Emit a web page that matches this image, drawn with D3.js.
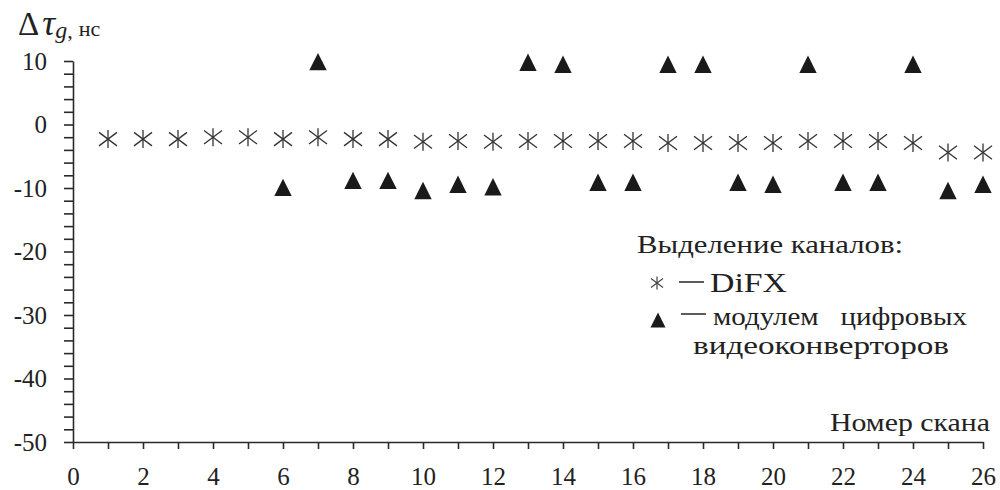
<!DOCTYPE html>
<html>
<head>
<meta charset="utf-8">
<script src="https://cdn.jsdelivr.net/npm/d3@7"></script>
<style>
  html, body { margin: 0; padding: 0; background: #fff; }
  svg { display: block; }
  svg text { font-family: "Liberation Serif", "Times New Roman", serif; fill: #222; }
</style>
</head>
<body>
<svg id="chart" width="1000" height="490"></svg>
<script>
// Scan numbers and delay differences (ns)
const scans = d3.range(1, 27);
const difxValues = [-2.3, -2.3, -2.3, -2.0, -2.0, -2.3, -2.0, -2.3, -2.3, -2.7,
                    -2.6, -2.7, -2.6, -2.6, -2.6, -2.6, -2.9, -2.9, -2.9, -2.9,
                    -2.6, -2.6, -2.6, -2.9, -4.4, -4.4];
const dbbcScans = d3.range(6, 27);
const dbbcValues = [-9.9, 9.9, -8.8, -8.8, -10.4, -9.4, -9.8, 9.8, 9.5, -9.1,
                    -9.1, 9.5, 9.5, -9.1, -9.4, 9.5, -9.1, -9.1, 9.5, -10.4, -9.4];
const xTickLabels = d3.range(0, 27, 2);
const yTickLabels = [10, 0, -10, -20, -30, -40, -50];
const legendTitle = "Выделение каналов:";
const legendDifx = "DiFX";
const legendDbbc1 = "модулем   цифровых";
const legendDbbc2 = "видеоконверторов";
const xTitle = "Номер скана";

const svg = d3.select("#chart");
const x = d3.scaleLinear().domain([0, 26]).range([73, 983]);
const y = d3.scaleLinear().domain([-50, 10]).range([442, 61]);

const axisColor = "#2a2a2a";

// X axis: a tick at every scan, labels on even numbers
const xAxis = d3.axisBottom(x)
  .tickValues(d3.range(0, 27))
  .tickSizeInner(7).tickSizeOuter(0).tickPadding(18)
  .tickFormat(d => xTickLabels.includes(d) ? d : "");
const gx = svg.append("g").attr("transform", `translate(0,${y(-50)})`).call(xAxis);

// Y axis: minor ticks every 2 ns, labels every 10 ns
const yAxis = d3.axisLeft(y)
  .tickValues(d3.range(-50, 11, 2))
  .tickSizeInner(9).tickSizeOuter(0).tickPadding(17)
  .tickFormat(d => yTickLabels.includes(d) ? d : "");
const gy = svg.append("g").attr("transform", `translate(${x(0)},0)`).call(yAxis);

[gx, gy].forEach(g => {
  g.attr("font-family", null);
  g.select(".domain").attr("stroke", axisColor).attr("stroke-width", 1.6);
  g.selectAll(".tick line").attr("stroke", axisColor).attr("stroke-width", 1.6);
  g.selectAll(".tick text")
    .style("font-family", "'Liberation Serif', 'Times New Roman', serif")
    .style("font-size", "25px").attr("fill", "#222");
});

// Asterisk marker: vertical stroke plus two diagonals
function asterisk(sel, r, h) {
  sel.append("line").attr("x1", 0).attr("y1", -r).attr("x2", 0).attr("y2", r);
  sel.append("line").attr("x1", -h).attr("y1", -h * 0.75).attr("x2", h).attr("y2", h * 0.75);
  sel.append("line").attr("x1", -h).attr("y1", h * 0.75).attr("x2", h).attr("y2", -h * 0.75);
}
const triPath = s => `M0,${-s}L${s},${s}L${-s},${s}Z`;

// DiFX series
const stars = svg.append("g").attr("stroke", "#333").attr("stroke-width", 1.3)
  .selectAll("g").data(scans).join("g")
  .attr("transform", (d, i) => `translate(${x(d)},${y(difxValues[i])})`);
stars.each(function () { asterisk(d3.select(this), 9, 9); });

// Digital video converter series
svg.append("g").selectAll("path").data(dbbcScans).join("path")
  .attr("d", triPath(8.7))
  .attr("fill", "#1a1a1a")
  .attr("transform", (d, i) => `translate(${x(d)},${y(dbbcValues[i])})`);

// Y axis title: Δτ_g, нс
const yt = svg.append("text").attr("x", 18).attr("y", 35);
yt.append("tspan").style("font-size", "33px").text("Δ");
yt.append("tspan").style("font-size", "36px").style("font-style", "italic").attr("dx", 3).text("τ");
yt.append("tspan").style("font-size", "24px").style("font-style", "italic").attr("dy", 3).text("g");
yt.append("tspan").style("font-size", "22px").text(",");
yt.append("tspan").style("font-size", "22px").attr("dx", 6).attr("dy", -2).text("нс");

// X axis title
svg.append("text").attr("x", 990).attr("y", 431).attr("text-anchor", "end")
  .style("font-size", "25px").attr("textLength", 160).attr("lengthAdjust", "spacingAndGlyphs")
  .text(xTitle);

// Legend
const lg = svg.append("g");
lg.append("text").attr("x", 637).attr("y", 253).style("font-size", "25px")
  .attr("textLength", 266).attr("lengthAdjust", "spacingAndGlyphs").text(legendTitle);

const ls = lg.append("g").attr("stroke", "#444").attr("stroke-width", 1.2)
  .attr("transform", "translate(657,283)");
asterisk(ls, 6.5, 6);
lg.append("line").attr("x1", 679).attr("x2", 704).attr("y1", 282).attr("y2", 282)
  .attr("stroke", "#333").attr("stroke-width", 1.6);
lg.append("text").attr("x", 710).attr("y", 292).style("font-size", "28px")
  .attr("textLength", 77).attr("lengthAdjust", "spacingAndGlyphs").text(legendDifx);

lg.append("path").attr("d", triPath(7.5)).attr("fill", "#1a1a1a")
  .attr("transform", "translate(658,320)");
lg.append("line").attr("x1", 681).attr("x2", 706).attr("y1", 314).attr("y2", 314)
  .attr("stroke", "#333").attr("stroke-width", 1.6);
lg.append("text").attr("x", 713).attr("y", 325).style("font-size", "25px")
  .style("white-space", "pre")
  .attr("textLength", 254).attr("lengthAdjust", "spacingAndGlyphs").text(legendDbbc1);
lg.append("text").attr("x", 693).attr("y", 354).style("font-size", "25px")
  .attr("textLength", 256).attr("lengthAdjust", "spacingAndGlyphs").text(legendDbbc2);
</script>
</body>
</html>
